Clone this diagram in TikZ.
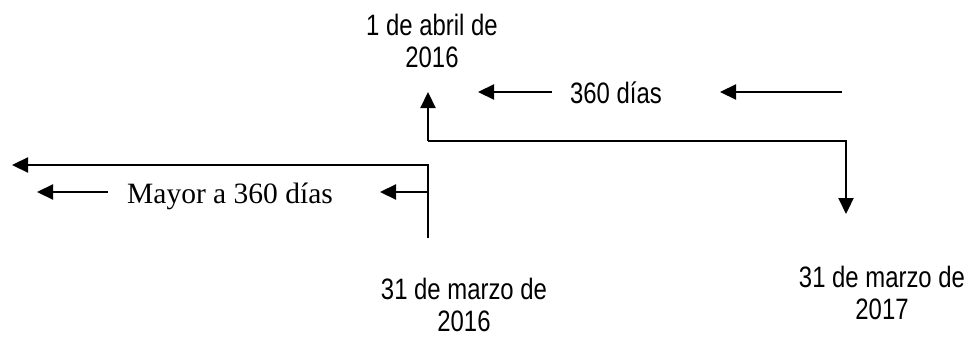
\documentclass[tikz,border=0pt]{standalone}
\usepackage{fontspec}
\setmainfont{Liberation Serif}
\newfontfamily\nar[FakeStretch=0.81]{Liberation Sans}
\usetikzlibrary{arrows.meta}
\begin{document}
\begin{tikzpicture}[x=1pt,y=-1pt,
  arr/.style={line width=2.2pt,-{Triangle[length=16pt,width=15pt]}},
  datelbl/.style={font=\nar\fontsize{29.5}{32}\selectfont,align=center,inner sep=0pt,anchor=north},
  daylbl/.style={font=\nar\fontsize{29.5}{32}\selectfont,inner sep=0pt,anchor=base},
  serlbl/.style={font=\fontsize{29.5}{32}\selectfont,inner sep=0pt,anchor=base}]
\useasboundingbox (0,0) rectangle (971,337);
% labels
\node[datelbl] (abr) at (432,14) {1 de abril de\\2016};
\node[datelbl] (m16) at (464,278) {31 de marzo de\\2016};
\node[datelbl] (m17) at (882,266) {31 de marzo de\\2017};
\node[daylbl] (d360) at (616,103) {360 días};
\node[serlbl] (may) at (230,203) {Mayor a 360 días};
% coordinates
\coordinate (up) at (428,92);
\coordinate (mid) at (428,141);
\coordinate (rc) at (846,141);
\coordinate (dn) at (846,214);
\coordinate (lv) at (428,165);
\coordinate (lb) at (428,238);
\coordinate (lt) at (12,165);
\coordinate (a1s) at (552,92);
\coordinate (a1e) at (478,92);
\coordinate (a2s) at (842,92);
\coordinate (a2e) at (720,92);
\coordinate (b1s) at (108,192);
\coordinate (b1e) at (37,192);
\coordinate (b2s) at (428,192);
\coordinate (b2e) at (380,192);
% connectors
\draw[arr] (mid) -- (up);
\draw[arr] (mid) -- (rc) -- (dn);
\draw[arr] (lb) -- (lv) -- (lt);
\draw[arr] (a1s) -- (a1e);
\draw[arr] (a2s) -- (a2e);
\draw[arr] (b1s) -- (b1e);
\draw[arr] (b2s) -- (b2e);
\end{tikzpicture}
\end{document}
